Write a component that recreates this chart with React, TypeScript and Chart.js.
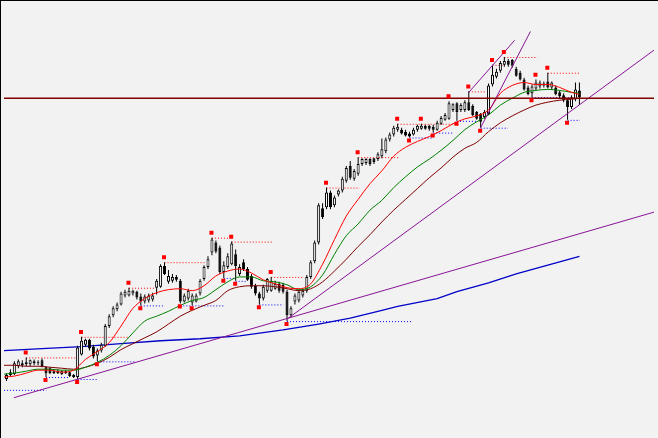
import { useEffect, useRef } from "react";
import { Chart, registerables } from "chart.js";

Chart.register(...registerables);

const WIDTH = 658;
const HEIGHT = 438;
// visible bar slots: 4 px per bar, with an empty shift area on the right
const FIRST_SLOT = -0.625;
const LAST_SLOT = 163.875;
const PRICE_MIN = 0;
const PRICE_MAX = 438;

// OHLC, one entry per bar
const openP = [
  56, 60, 61, 69, 72, 71, 71, 74, 72, 75,
  68, 67, 64, 62, 61, 62, 63, 60, 58, 81,
  91, 96, 89, 80, 85, 90, 110, 121, 127, 132,
  141, 141, 143, 145, 140, 135, 136, 137, 149, 150,
  171, 155, 156, 160, 156, 135, 138, 134, 135, 143,
  158, 170, 185, 195, 190, 165, 170, 173, 183, 163,
  175, 168, 161, 151, 143, 138, 146, 146, 148, 153,
  152, 145, 121, 135, 136, 141, 146, 160, 176, 195,
  230, 231, 246, 233, 244, 248, 258, 273, 260, 265,
  275, 276, 280, 281, 280, 283, 288, 300, 305, 310,
  310, 308, 306, 305, 310, 311, 314, 314, 313, 310,
  316, 320, 321, 330, 337, 330, 330, 338, 334, 328,
  326, 323, 326, 356, 364, 370, 376, 380, 381, 372,
  368, 361, 353, 347, 352, 354, 355, 359, 353, 353,
  348, 345, 340, 333, 341, 350,
];
const closeP = [
  60, 63, 72, 74, 70, 73, 75, 72, 73, 69,
  62, 62, 62, 64, 64, 64, 59, 58, 88, 95,
  96, 87, 79, 85, 91, 110, 120, 128, 132, 143,
  145, 146, 146, 139, 135, 140, 141, 141, 156, 171,
  163, 161, 160, 157, 135, 141, 146, 141, 141, 156,
  170, 178, 198, 186, 165, 172, 181, 194, 171, 170,
  168, 157, 150, 143, 138, 150, 158, 156, 153, 146,
  145, 121, 128, 141, 145, 146, 160, 175, 195, 233,
  221, 246, 231, 241, 248, 260, 271, 261, 268, 275,
  280, 280, 275, 277, 285, 290, 300, 305, 312, 313,
  306, 304, 303, 310, 314, 314, 311, 311, 310, 317,
  322, 325, 337, 336, 328, 335, 338, 330, 325, 321,
  318, 328, 355, 366, 369, 378, 380, 376, 375, 365,
  361, 351, 346, 354, 358, 358, 357, 353, 358, 346,
  344, 340, 333, 343, 351, 343,
];
const highP = [
  62, 66, 74, 76, 75, 78, 76, 76, 75, 77,
  69, 68, 66, 66, 65, 65, 64, 61, 90, 99,
  97, 97, 91, 87, 93, 112, 122, 130, 134, 145,
  147, 149, 147, 146, 143, 142, 143, 144, 158, 173,
  175, 167, 163, 162, 158, 143, 148, 143, 143, 158,
  172, 181, 200, 197, 192, 176, 184, 196, 188, 173,
  178, 170, 163, 153, 145, 152, 159, 160, 156, 155,
  154, 147, 130, 143, 147, 148, 162, 177, 197, 235,
  235, 251, 248, 243, 249, 262, 273, 278, 270, 282,
  281, 281, 281, 281, 287, 301, 302, 307, 314, 316,
  312, 310, 308, 312, 315, 316, 315, 315, 315, 319,
  324, 327, 339, 337, 338, 337, 340, 349, 336, 329,
  327, 330, 357, 376, 372, 380, 384, 382, 382, 374,
  370, 363, 355, 356, 361, 360, 359, 368, 359, 355,
  350, 347, 342, 345, 358, 358,
];
const lowP = [
  54, 58, 60, 67, 68, 69, 69, 70, 70, 68,
  58, 61, 61, 61, 60, 61, 58, 57, 56, 80,
  89, 85, 77, 74, 83, 89, 108, 119, 125, 131,
  139, 140, 141, 137, 131, 133, 134, 135, 142, 149,
  162, 153, 154, 155, 133, 134, 136, 131, 134, 141,
  156, 168, 182, 184, 163, 159, 168, 172, 156, 161,
  166, 156, 148, 141, 132, 136, 144, 145, 147, 144,
  143, 115, 119, 132, 134, 139, 144, 158, 174, 193,
  219, 229, 229, 231, 242, 246, 256, 259, 258, 263,
  273, 274, 273, 275, 278, 281, 286, 298, 303, 308,
  305, 303, 302, 304, 308, 310, 310, 309, 307, 309,
  315, 319, 320, 328, 319, 328, 328, 329, 324, 320,
  312, 321, 325, 354, 362, 368, 374, 374, 373, 364,
  360, 350, 345, 343, 350, 352, 353, 352, 351, 345,
  342, 338, 320, 331, 339, 335,
];

// fractal bars (upper and lower)
const fractalUp = [5, 19, 31, 40, 52, 57, 67, 81, 89, 99, 105, 112, 117, 123, 126, 134, 137];
const fractalDown = [10, 18, 23, 34, 44, 47, 55, 58, 64, 71, 102, 108, 114, 120, 133, 142];
const FRACTAL_GAP_UP = 5;
const FRACTAL_GAP_DOWN = 3;

// moving averages, read at these bar positions
const maIdx = [
  -0.625, 2, 5, 8, 11, 14, 17, 20, 23, 26, 29, 32, 35, 38, 41, 44, 47, 50, 53, 56,
  59, 62, 65, 68, 71, 74, 77, 80, 83, 86, 89, 92, 95, 98, 101, 104, 107, 110, 113, 116,
  119, 122, 125, 128, 131, 134, 137, 140, 143, 145,
];
const maFast = [
  58, 59, 62, 65, 65, 63, 65, 76, 84, 93,
  110, 128, 138, 144, 147, 148, 146, 151, 161, 166,
  168, 164, 157, 153, 149, 148, 153, 173, 198, 222,
  239, 255, 268, 283, 292, 298, 303, 309, 316, 321,
  324, 330, 347, 355, 358, 356, 356, 353, 348, 346,
];
const maMid = [
  61, 62, 64, 66, 66, 65, 65, 68, 73, 80,
  90, 103, 115, 120, 125, 131, 136, 139, 147, 155,
  160, 160, 156, 155, 152, 147, 150, 162, 183, 202,
  214, 228, 238, 251, 262, 272, 280, 289, 299, 310,
  318, 325, 335, 342, 348, 350, 351, 350, 348, 347,
];
const maSlow = [
  70, 70, 69, 69, 68, 67, 66, 68, 72, 78,
  86, 92, 98, 104, 112, 120, 126, 131, 136, 146,
  150, 151, 151, 150, 148, 146, 148, 155, 166, 178,
  191, 203, 216, 228, 239, 250, 261, 271, 282, 291,
  297, 308, 317, 324, 330, 335, 338, 340, 341, 342,
];
const maLongIdx = [-0.625, 9, 19, 29, 39, 49, 59, 70, 79, 87, 94, 99, 109, 114, 122, 129, 137, 145];
const maLong = [85, 87, 89, 92, 95, 97, 100, 106, 112, 118, 125, 130, 138, 145, 154, 163, 172, 181];

// fractal levels: resistance (from upper fractals) and support (from lower fractals)
const resLevel = [78, 99, 149, 175, 200, 196, 160, 251, 282, 316, 349, 376, 384, 368];
const resFrom = [5, 19, 31, 40, 52, 57, 67, 81, 89, 99, 117, 123, 126, 137];
const resTo = [17.4, 31.1, 37.4, 50.1, 56.1, 67.4, 75.1, 89.4, 99.4, 114.4, 121.4, 125.6, 134.4, 145.1];
const supLevel = [45, 58, 56, 74, 131, 131, 159, 156, 132, 115, 302, 307, 319, 312, 343, 320];
const supFrom = [-0.6, 10, 18, 23, 34, 44, 55, 58, 64, 71, 102, 108, 114, 120, 133, 142];
const supTo = [10.1, 15.6, 23.1, 32.6, 40.1, 55.1, 58.1, 60.6, 70.1, 102.4, 107.6, 113.1, 118.9, 126.9, 142.4, 145.1];

// trend lines: start and end points (bar, price)
const trendX1 = [1.875, 71, 117, 120];
const trendY1 = [37, 117, 348, 312];
const trendX2 = [163.875, 163.875, 128.6, 132.6];
const trendY2 = [226, 391, 401, 410];

const horizontalLevel = 342;

// window background and frame, plus half-pixel alignment for flat lines and markers
const frame = {
  id: "frame",
  beforeDraw(chart: Chart) {
    const ctx = chart.ctx;
    ctx.save();
    ctx.fillStyle = "#f2f2f2";
    ctx.fillRect(0, 0, chart.width, chart.height);
    ctx.restore();
  },
  beforeDatasetDraw(chart: Chart, args: any) {
    const ds: any = chart.data.datasets[args.index];
    if (ds.snapX || ds.snapY) {
      chart.ctx.save();
      chart.ctx.translate(ds.snapX || 0, ds.snapY || 0);
    }
  },
  afterDatasetDraw(chart: Chart, args: any) {
    const ds: any = chart.data.datasets[args.index];
    if (ds.snapX || ds.snapY) chart.ctx.restore();
  },
  afterDraw(chart: Chart) {
    const ctx = chart.ctx;
    ctx.save();
    ctx.fillStyle = "#000000";
    ctx.fillRect(0, 0, chart.width, 1);
    ctx.fillRect(0, 0, 1, chart.height);
    ctx.restore();
  },
};

export default function App() {
  const canvasRef = useRef<HTMLCanvasElement>(null);

  useEffect(() => {
    document.body.style.margin = "0";
    const canvas = canvasRef.current;
    if (!canvas) return;

    const bars = openP.map((_, i) => i);
    const wicks = bars.map((i) => ({ x: i, y: [lowP[i], highP[i]] }));
    const upBodies = bars
      .filter((i) => closeP[i] >= openP[i])
      .map((i) => ({ x: i, y: [openP[i], closeP[i]] }));
    const downBodies = bars
      .filter((i) => closeP[i] < openP[i])
      .map((i) => ({ x: i, y: [closeP[i], openP[i]] }));

    const barCommon = {
      type: "bar" as const,
      grouped: false,
      barPercentage: 0.999,
      categoryPercentage: 1,
      borderSkipped: false,
      inflateAmount: 0,
    };

    const line = (data: { x: number; y: number }[], color: string, width: number, order: number, extra = {}) => ({
      type: "line" as const,
      data,
      borderColor: color,
      borderWidth: width,
      pointRadius: 0,
      fill: false,
      order,
      ...extra,
    });

    const datasets: any[] = [];

    resLevel.forEach((lvl, k) => {
      datasets.push(
        line(
          [
            { x: resFrom[k], y: lvl },
            { x: resTo[k], y: lvl },
          ],
          "#ff0000",
          1,
          60,
          { borderDash: [1, 2], snapY: 0.5 }
        )
      );
    });
    supLevel.forEach((lvl, k) => {
      datasets.push(
        line(
          [
            { x: supFrom[k], y: lvl },
            { x: supTo[k], y: lvl },
          ],
          "#0000ff",
          1,
          60,
          { borderDash: [1, 2], snapY: 0.5 }
        )
      );
    });

    datasets.push(
      line(
        maLongIdx.map((x, k) => ({ x, y: maLong[k] })),
        "#0000c8",
        1.3,
        50
      )
    );

    datasets.push({
      ...barCommon,
      data: wicks,
      backgroundColor: "#000000",
      borderWidth: 0,
      maxBarThickness: 1,
      order: 45,
    });
    datasets.push({
      ...barCommon,
      data: downBodies,
      backgroundColor: "#000000",
      borderColor: "#000000",
      borderWidth: 1,
      maxBarThickness: 3,
      order: 44,
    });
    datasets.push({
      ...barCommon,
      data: upBodies,
      backgroundColor: "#ffffff",
      borderColor: "#000000",
      borderWidth: 1,
      maxBarThickness: 3,
      order: 43,
    });

    const smooth = { cubicInterpolationMode: "monotone" };
    datasets.push(line(maIdx.map((x, k) => ({ x, y: maSlow[k] })), "#800000", 1, 32, smooth));
    datasets.push(line(maIdx.map((x, k) => ({ x, y: maMid[k] })), "#008000", 1, 31, smooth));
    datasets.push(line(maIdx.map((x, k) => ({ x, y: maFast[k] })), "#ff0000", 1, 30, smooth));

    trendX1.forEach((x1, k) => {
      datasets.push(
        line(
          [
            { x: x1, y: trendY1[k] },
            { x: trendX2[k], y: trendY2[k] },
          ],
          "#8a1496",
          1,
          20
        )
      );
    });

    datasets.push(
      line(
        [
          { x: FIRST_SLOT, y: horizontalLevel },
          { x: LAST_SLOT, y: horizontalLevel },
        ],
        "#800000",
        1.5,
        15
      )
    );

    datasets.push({
      type: "line" as const,
      data: [
        ...fractalUp.map((i) => ({ x: i, y: highP[i] + FRACTAL_GAP_UP })),
        ...fractalDown.map((i) => ({ x: i, y: lowP[i] - FRACTAL_GAP_DOWN })),
      ],
      showLine: false,
      pointStyle: "rect",
      pointRadius: 2.83,
      pointBorderWidth: 0,
      pointBackgroundColor: "#ff0000",
      order: 10,
      snapX: -0.5,
    });

    const chart = new Chart(canvas, {
      type: "line",
      data: { datasets },
      options: {
        responsive: false,
        animation: false,
        devicePixelRatio: 1,
        layout: { padding: 0 },
        plugins: {
          legend: { display: false },
          tooltip: { enabled: false },
          title: { display: false },
        },
        events: [],
        scales: {
          x: {
            type: "linear",
            min: FIRST_SLOT,
            max: LAST_SLOT,
            display: false,
            offset: false,
          },
          y: {
            type: "linear",
            min: PRICE_MIN,
            max: PRICE_MAX,
            display: false,
          },
        },
      },
      plugins: [frame],
    } as any);

    return () => chart.destroy();
  }, []);

  return (
    <canvas
      ref={canvasRef}
      width={WIDTH}
      height={HEIGHT}
      style={{ display: "block", width: WIDTH, height: HEIGHT }}
    />
  );
}
